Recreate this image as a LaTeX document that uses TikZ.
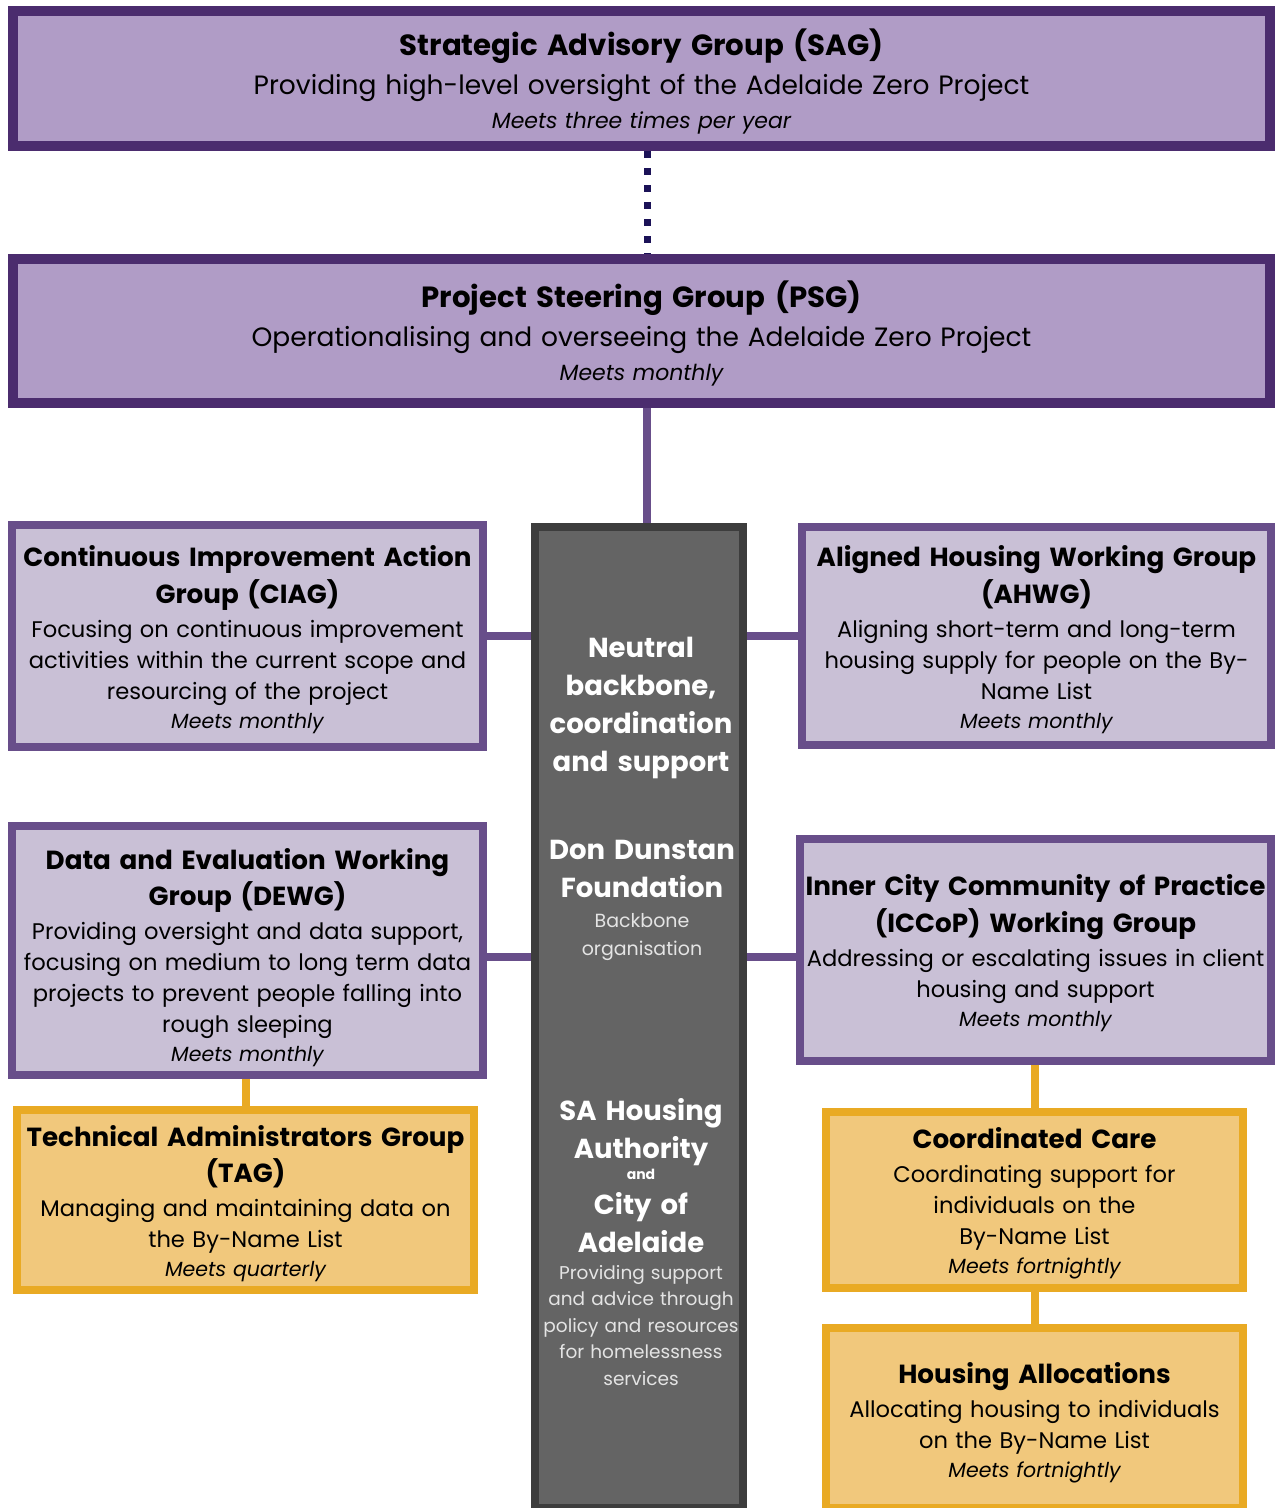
\documentclass[tikz,border=0pt]{standalone}
\usepackage{fontspec}
\setmainfont{Poppins}
\usetikzlibrary{backgrounds}
\definecolor{dpurple}{HTML}{4B2C6E}
\definecolor{tpurple}{HTML}{B09CC6}
\definecolor{mpurple}{HTML}{684E8A}
\definecolor{llav}{HTML}{C9C0D6}
\definecolor{dgray}{HTML}{3D3D3D}
\definecolor{mgray}{HTML}{646464}
\definecolor{ybord}{HTML}{E9AA24}
\definecolor{yfill}{HTML}{F1C87C}
\definecolor{navy}{HTML}{1B1257}
\definecolor{softw}{HTML}{E4E4E4}
\newcommand\azSp{\spaceskip=0.33em\relax\hyphenpenalty=10000\relax}
\newcommand\azTopT{\fontsize{29.2}{38}\selectfont\bfseries\azSp}
\newcommand\azTopB{\fontsize{26.5}{39}\selectfont\azSp}
\newcommand\azTopI{\fontsize{22}{34}\selectfont\itshape\azSp}
\newcommand\azSubT{\fontsize{26.2}{36.5}\selectfont\bfseries\azSp}
\newcommand\azSubB{\fontsize{22.6}{31}\selectfont\azSp}
\newcommand\azSubI{\fontsize{20.5}{29}\selectfont\itshape\azSp}
\newcommand\azMidT{\fontsize{27.5}{38}\selectfont\bfseries\azSp}
\newcommand\azMidS{\fontsize{18.5}{26.5}\selectfont\azSp}
\begin{document}
\begin{tikzpicture}[x=1pt,y=-1pt,
  topbox/.style={draw=dpurple, fill=tpurple, line width=10pt, inner sep=0pt, align=center, text width=1200pt},
  subbox/.style={draw=mpurple, fill=llav, line width=8pt, inner sep=0pt, align=center},
  yelbox/.style={draw=ybord, fill=yfill, line width=8pt, inner sep=0pt, align=center},
  midbox/.style={draw=dgray, fill=mgray, line width=8pt, inner sep=0pt},
  midtext/.style={text=white, align=center, text width=205pt, inner sep=0pt},
  pline/.style={draw=mpurple, line width=8pt},
  yline/.style={draw=ybord, line width=8pt},
  dline/.style={draw=navy, line width=7pt, dash pattern=on 7pt off 10pt}]
\useasboundingbox (0,0) rectangle (1275,1508);

\node[topbox, minimum width=1257pt, minimum height=135pt] (sag) at (641.5,78.5)
 {\vskip-6pt{\azTopT Strategic Advisory Group (SAG)\par}{\azTopB Providing high-level oversight of the Adelaide Zero Project\par}{\azTopI Meets three times per year\par}};
\node[topbox, minimum width=1257pt, minimum height=144pt] (psg) at (641.5,331)
 {\vskip-6pt{\azTopT Project Steering Group (PSG)\par}{\azTopB Operationalising and overseeing the Adelaide Zero Project\par}{\azTopI Meets monthly\par}};

\node[midbox, minimum width=208pt, minimum height=981pt] (mid) at (639,1017.5) {};
\node[midtext] (midA) at (641,708)
 {\azMidT Neutral\\backbone,\\coordination\\and support\par};
\node[midtext] (midB) at (642,900)
 {{\azMidT Don Dunstan\\Foundation\par}\vskip2pt{\fontsize{19}{28}\selectfont\azSp\color{softw}Backbone\\organisation\par}};
\node[midtext] (midC) at (641,1242)
 {{\azMidT SA Housing\\Authority\par}{\fontsize{14}{21}\selectfont\bfseries and\par}\vskip-3pt{\azMidT City of\\Adelaide\par}{\azMidS\color{softw}Providing support\\and advice through\\policy and resources\\for homelessness\\services\par}};

\node[subbox, minimum width=471pt, minimum height=222pt, text width=471pt] (ciag) at (247.5,636)
 {\vskip-8pt{\azSubT Continuous Improvement Action\\Group (CIAG)\par}\vskip3pt{\azSubB Focusing on continuous improvement\\activities within the current scope and\\resourcing of the project\par}{\azSubI Meets monthly\par}};
\node[subbox, minimum width=469pt, minimum height=218pt, text width=469pt] (ahwg) at (1036.5,636)
 {\vskip-8pt{\azSubT Aligned Housing Working Group\\(AHWG)\par}\vskip3pt{\azSubB Aligning short-term and long-term\\housing supply for people on the By-\\Name List\par}{\azSubI Meets monthly\par}};
\node[subbox, minimum width=471pt, minimum height=249pt, text width=471pt] (dewg) at (247.5,950.5)
 {\vskip-1pt{\azSubT Data and Evaluation Working\\Group (DEWG)\par}\vskip3pt{\azSubB Providing oversight and data support,\\focusing on medium to long term data\\projects to prevent people falling into\\rough sleeping\par}{\azSubI Meets monthly\par}};
\node[subbox, minimum width=471pt, minimum height=222pt, text width=471pt] (iccop) at (1035.5,950)
 {\vskip-9pt{\azSubT Inner City Community of Practice\\(ICCoP) Working Group\par}\vskip3pt{\azSubB Addressing or escalating issues in client\\housing and support\par}{\azSubI Meets monthly\par}};

\node[yelbox, minimum width=457pt, minimum height=180pt, text width=457pt] (tag) at (245.5,1200)
 {\vskip-8pt{\azSubT Technical Administrators Group\\(TAG)\par}\vskip3pt{\azSubB Managing and maintaining data on\\the By-Name List\par}{\azSubI Meets quarterly\par}};
\node[yelbox, minimum width=417pt, minimum height=176pt, text width=417pt] (cc) at (1034.5,1200)
 {\vskip-8pt{\azSubT Coordinated Care\par}\vskip3pt{\azSubB Coordinating support for\\individuals on the\\By-Name List\par}{\azSubI Meets fortnightly\par}};
\node[yelbox, minimum width=417pt, minimum height=180pt, text width=417pt] (ha) at (1034.5,1418)
 {\vskip-6pt{\azSubT Housing Allocations\par}\vskip3pt{\azSubB Allocating housing to individuals\\on the By-Name List\par}{\azSubI Meets fortnightly\par}};

\coordinate (cx) at (647,0);
\coordinate (ylow) at (0,957);
\begin{scope}[on background layer]
\fill[white] (0,0) rectangle (1275,1508);
\draw[dline] (sag.south -| cx) -- (psg.north -| cx);
\draw[pline] (psg.south -| cx) -- (mid.north -| cx);
\draw[pline] (ciag.east) -- (ciag.east -| mid.west);
\draw[pline] (ahwg.west) -- (ahwg.west -| mid.east);
\draw[pline] (dewg.east |- ylow) -- (mid.west |- ylow);
\draw[pline] (iccop.west |- ylow) -- (mid.east |- ylow);
\draw[yline] (tag.north) -- (tag.north |- dewg.south);
\draw[yline] (cc.north) -- (cc.north |- iccop.south);
\draw[yline] (cc.south) -- (ha.north);
\end{scope}
\end{tikzpicture}
\end{document}
